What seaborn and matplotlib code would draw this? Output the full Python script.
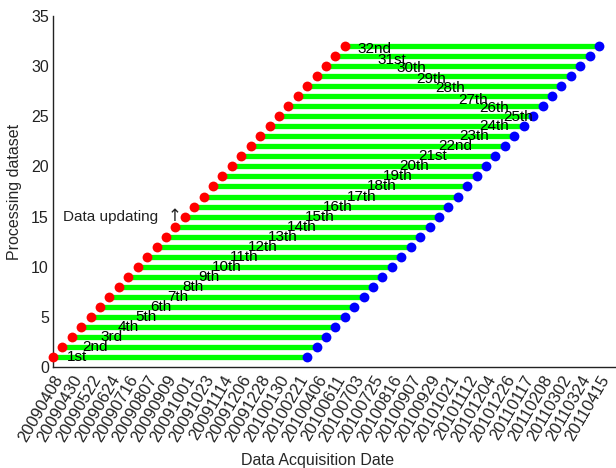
import matplotlib
matplotlib.use("Agg")
import matplotlib.pyplot as plt
import seaborn as sns
import pandas as pd

# Acquisition dates shown on the x axis (every second acquisition)
tick_dates = [
    "20090408", "20090430", "20090522", "20090624", "20090716", "20090807",
    "20090909", "20091001", "20091023", "20091114", "20091206", "20091228",
    "20100130", "20100221", "20100406", "20100611", "20100703", "20100725",
    "20100816", "20100907", "20100929", "20101021", "20101112", "20101204",
    "20101226", "20110117", "20110208", "20110302", "20110324", "20110415",
]
tick_index = list(range(1, 60, 2))

# Processing datasets: first and last acquisition index of each window
dataset = list(range(1, 33))
start_index = list(range(1, 33))
end_index = list(range(28, 60))

# Dataset annotations and their positions
ordinal = [
    "1st", "2nd", "3rd", "4th", "5th", "6th", "7th", "8th", "9th", "10th",
    "11th", "12th", "13th", "14th", "15th", "16th", "17th", "18th", "19th", "20th",
    "21st", "22nd", "23th", "24th", "25th", "26th", "27th", "28th", "29th", "30th",
    "31st", "32nd",
]
label_x = [
    2.5, 4.1, 6.0, 7.9, 9.7, 11.3, 13.1, 14.7, 16.4, 17.9,
    19.8, 21.7, 23.8, 25.8, 27.8, 29.7, 32.2, 34.3, 36.0, 37.8,
    39.8, 41.9, 44.2, 46.3, 48.8, 46.3, 44.0, 41.6, 39.6, 37.5,
    35.5, 33.3,
]
label_y = [
    1.0, 2.0, 3.0, 4.0, 5.0, 6.0, 7.0, 8.0, 9.0, 10.0,
    11.0, 12.0, 13.0, 14.0, 15.0, 16.0, 17.0, 18.0, 19.0, 20.0,
    21.0, 22.0, 23.0, 24.0, 24.9, 25.8, 26.6, 27.8, 28.7, 29.8,
    30.6, 31.7,
]

df = pd.DataFrame({"dataset": dataset, "start": start_index, "end": end_index})

sns.set_theme(style="white")
plt.rcParams["font.family"] = ["Liberation Sans", "DejaVu Sans"]

fig = plt.figure(figsize=(6.16, 4.68), dpi=100)
ax = fig.add_axes([0.086, 0.2158, 0.917, 0.75])

ax.hlines(df["dataset"], df["start"], df["end"], color="#00ff00", linewidth=3.8, zorder=1)
sns.scatterplot(data=df, x="start", y="dataset", color="#ff0000", s=50,
                linewidth=0, ax=ax, zorder=3, clip_on=False)
sns.scatterplot(data=df, x="end", y="dataset", color="#0000ff", s=50,
                linewidth=0, ax=ax, zorder=3, clip_on=False)

for txt, x, y in zip(ordinal, label_x, label_y):
    ax.text(x, y, txt, fontsize=11, ha="left", va="center", color="black", zorder=4)

ax.text(2.1, 15, "Data updating", fontsize=11, ha="left", va="center", color="#222222")
ax.text(13.2, 15.1, "↑", fontsize=12, ha="left", va="center", color="#222222",
        family=["DejaVu Sans"])

ax.set_xlim(1, 61)
ax.set_ylim(0, 35)
ax.set_xticks(tick_index)
ax.set_xticklabels(tick_dates, rotation=60, ha="right", va="top",
                   rotation_mode="anchor", fontsize=12)
ax.set_yticks(range(0, 36, 5))
ax.tick_params(axis="y", labelsize=11.5)
ax.tick_params(direction="in", length=5, width=1, colors="#222222", pad=3)
ax.tick_params(axis="x", pad=4)

for side in ["top", "right"]:
    ax.spines[side].set_visible(False)
for side in ["left", "bottom"]:
    ax.spines[side].set_color("#222222")
    ax.spines[side].set_linewidth(1.0)

ax.set_xlabel("Data Acquisition Date", fontsize=11.5)
ax.set_ylabel("Processing dataset", fontsize=11.5)
ax.xaxis.set_label_coords((318 - 53) / (0.917 * 616), -0.245)
ax.yaxis.set_label_coords(-0.055, 0.5)

fig.savefig("out.png", dpi=100)
